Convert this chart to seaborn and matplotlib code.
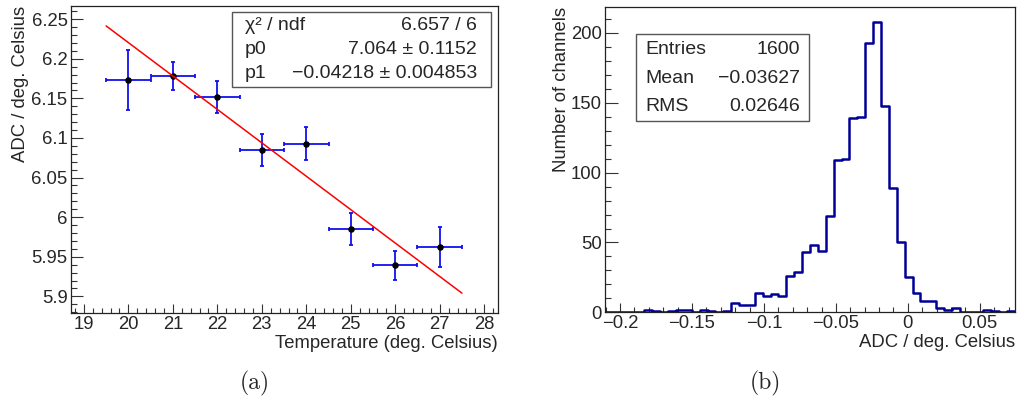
import numpy as np
import pandas as pd
import matplotlib
matplotlib.use("Agg")
import matplotlib.pyplot as plt
import seaborn as sns
from matplotlib.patches import Rectangle
from matplotlib.ticker import MultipleLocator, FuncFormatter

# ---------------- data ----------------
temperature = [20, 21, 22, 23, 24, 25, 26, 27]
adc_per_deg = [6.173, 6.178, 6.152, 6.085, 6.093, 5.985, 5.939, 5.962]
adc_err = [0.038, 0.018, 0.020, 0.020, 0.021, 0.020, 0.018, 0.025]
temp_err = [0.5, 0.5, 0.5, 0.5, 0.5, 0.5, 0.5, 0.5]
fit_p0 = 7.064
fit_p1 = -0.04218
fit_range = [19.5, 27.5]

hist_range = [-0.2105, 0.0745]
hist_counts = [0, 0, 0, 0, 0, 2, 1, 0, 1, 2, 2, 0, 2, 1, 0, 1,
               7, 5, 5, 14, 12, 13, 12, 26, 29, 43, 48, 44,
               69, 109, 110, 139, 140, 193, 208, 148, 89, 50, 25, 14,
               8, 8, 3, 2, 3, 0, 0, 0, 2, 1, 0, 1]

fit_labels = ["\u03c7\u00b2 / ndf", "p0", "p1"]
fit_values = ["6.657 / 6", "7.064 \u00b1 0.1152", "\u22120.04218 \u00b1 0.004853"]
stat_labels = ["Entries", "Mean", "RMS"]
stat_values = ["1600", "\u22120.03627", "0.02646"]

# ---------------- style ----------------
sns.set_style("ticks")
plt.rcParams["font.family"] = ["Liberation Sans", "DejaVu Sans"]
plt.rcParams["axes.unicode_minus"] = True

W, H = 1019, 408
fig = plt.figure(figsize=(W / 100, H / 100), dpi=100)


def fx(px):
    return px / W


def fy(py):
    return 1 - py / H


ax1 = fig.add_axes([fx(71), fy(313), fx(498) - fx(71), fy(5.7) - fy(313)])
ax2 = fig.add_axes([fx(605), fy(312.3), fx(1015) - fx(605), fy(7.3) - fy(312.3)])

FS = 13.3

# ---------------- left: graph with fit ----------------
df = pd.DataFrame({"T": temperature, "ADC": adc_per_deg})
ax1.errorbar(temperature, adc_per_deg, xerr=temp_err, yerr=adc_err, fmt="none",
             ecolor="#1010ee", elinewidth=1.3, capsize=1.2, capthick=1.3, zorder=2)
sns.scatterplot(data=df, x="T", y="ADC", ax=ax1, color="black", s=22,
                edgecolor="black", linewidth=0, zorder=3)
fit_x = np.array(fit_range)
fit_df = pd.DataFrame({"T": fit_x, "ADC": fit_p0 + fit_p1 * fit_x})
sns.lineplot(data=fit_df, x="T", y="ADC", ax=ax1, color="red", linewidth=1.1, zorder=4)

ax1.set_xlim(18.71, 28.31)
ax1.set_ylim(5.879, 6.267)
ax1.xaxis.set_major_locator(MultipleLocator(1))
ax1.xaxis.set_minor_locator(MultipleLocator(0.2))
ax1.yaxis.set_major_locator(MultipleLocator(0.05))
ax1.yaxis.set_minor_locator(MultipleLocator(0.01))
fmt = FuncFormatter(lambda v, p: ("%g" % round(v, 6)).replace("-", "\u2212"))
ax1.yaxis.set_major_formatter(fmt)
ax1.xaxis.set_major_formatter(fmt)
ax1.set_xlabel("Temperature (deg. Celsius)", fontsize=FS, loc="right")
ax1.set_ylabel("ADC / deg. Celsius", fontsize=FS, loc="top")
ax1.xaxis.set_label_coords(1.0, -0.07)
ax1.yaxis.set_label_coords(-0.098, 1.0)

# ---------------- right: histogram ----------------
edges = np.linspace(hist_range[0], hist_range[1], len(hist_counts) + 1)
centers = 0.5 * (edges[:-1] + edges[1:])
hdf = pd.DataFrame({"x": centers, "w": hist_counts})
sns.histplot(data=hdf, x="x", weights="w", bins=len(hist_counts),
             binrange=(hist_range[0], hist_range[1]), element="step", fill=False,
             color="#000099", linewidth=1.8, ax=ax2)
ax2.set_xlim(hist_range[0], hist_range[1])
ax2.set_ylim(0, 218.4)
ax2.xaxis.set_major_locator(MultipleLocator(0.05))
ax2.xaxis.set_minor_locator(MultipleLocator(0.01))
ax2.yaxis.set_major_locator(MultipleLocator(50))
ax2.yaxis.set_minor_locator(MultipleLocator(10))
ax2.xaxis.set_major_formatter(fmt)
ax2.set_xlabel("ADC / deg. Celsius", fontsize=FS, loc="right")
ax2.set_ylabel("Number of channels", fontsize=FS, loc="top")
ax2.xaxis.set_label_coords(1.0, -0.071)
ax2.yaxis.set_label_coords(-0.0854, 1.0)

for ax, xl, yl in [(ax1, 6.5, 8.6), (ax2, 6.5, 9.0)]:
    for s in ax.spines.values():
        s.set_visible(True)
        s.set_linewidth(0.9)
        s.set_color("#222222")
    ax.tick_params(axis="x", which="major", direction="in", length=xl, width=0.8,
                   labelsize=FS, pad=2, top=False, color="#333333")
    ax.tick_params(axis="x", which="minor", direction="in", length=xl / 2, width=0.8,
                   top=False, color="#333333")
    ax.tick_params(axis="y", which="major", direction="in", length=yl, width=0.8,
                   labelsize=FS, pad=2.5, right=False, color="#333333")
    ax.tick_params(axis="y", which="minor", direction="in", length=yl / 2, width=0.8,
                   right=False, color="#333333")
    ax.grid(False)

# ---------------- stat boxes ----------------
def stat_box(x0, y0, x1, y1, labels, values, rows_y, lx, rx):
    fig.patches.append(Rectangle((fx(x0), fy(y1)), fx(x1) - fx(x0), fy(y0) - fy(y1),
                                 transform=fig.transFigure, facecolor="white",
                                 edgecolor="#555555", linewidth=1.0, zorder=5))
    for lab, val, ry in zip(labels, values, rows_y):
        fig.text(fx(lx), fy(ry), lab, fontsize=14, ha="left", va="center", zorder=6)
        fig.text(fx(rx), fy(ry), val, fontsize=14, ha="right", va="center", zorder=6)


stat_box(232, 11.7, 491, 87.3, fit_labels, fit_values, [25, 49.5, 74], 245, 477)
stat_box(636, 33.7, 809.3, 121.3, stat_labels, stat_values, [49, 78.3, 106.7], 645, 800)

# ---------------- captions ----------------
fig.text(fx(255), fy(383), "(a)", family="cmr10", fontsize=17, ha="center", va="center")
fig.text(fx(765), fy(383), "(b)", family="cmr10", fontsize=17, ha="center", va="center")

fig.savefig("out.png", dpi=100, facecolor="white")
